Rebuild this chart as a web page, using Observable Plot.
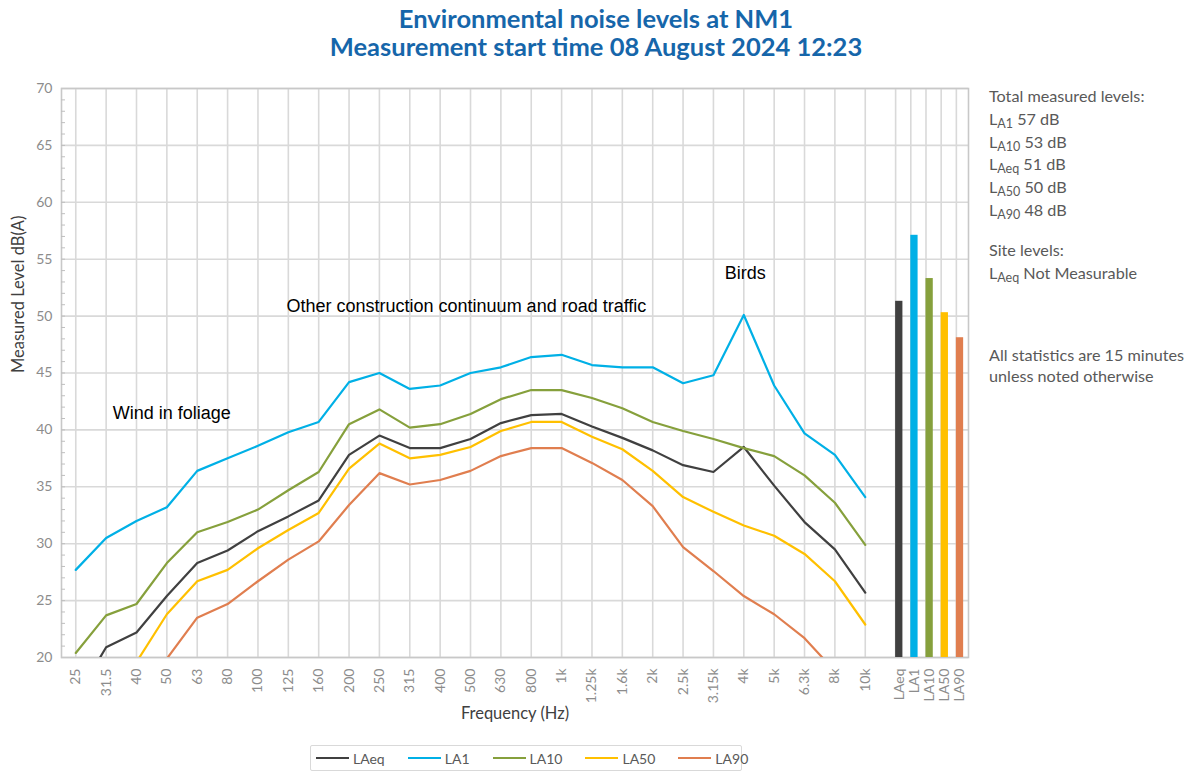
<!DOCTYPE html>
<html><head><meta charset="utf-8">
<script src="https://cdn.jsdelivr.net/npm/d3@7"></script>
<script src="https://cdn.jsdelivr.net/npm/@observablehq/plot@0.6"></script>
<style>
body{margin:0;background:#fff;}
#wrap{position:relative;width:1192px;height:772px;overflow:hidden;font-family:Lato,"Open Sans",sans-serif;}
#title{position:absolute;left:0;top:4px;width:1192px;text-align:center;color:#1666aa;font-weight:bold;font-size:25.5px;line-height:28px;}
#chart{position:absolute;left:0;top:70px;}
.side{position:absolute;left:989px;color:#595959;font-size:16.2px;white-space:nowrap;}
.side sub{font-size:12.5px;vertical-align:-3px;line-height:0;}
#legend{position:absolute;left:310px;top:745px;width:432px;height:26px;border:1px solid #d9d9d9;border-radius:2px;box-sizing:border-box;display:flex;align-items:center;gap:23px;padding-left:5px;font-size:14px;color:#595959;}
#legend .it{display:flex;align-items:center;gap:4px;}
#legend .sw{display:inline-block;width:33px;height:2.5px;}
</style></head>
<body><div id="wrap">
<div id="title">Environmental noise levels at NM1<br>Measurement start time 08 August 2024 12:23</div>
<div id="chart"></div>
<div class="side" style="top:85px;line-height:22.8px">Total measured levels:<br>L<sub>A1</sub> 57 dB<br>L<sub>A10</sub> 53 dB<br>L<sub>Aeq</sub> 51 dB<br>L<sub>A50</sub> 50 dB<br>L<sub>A90</sub> 48 dB</div>
<div class="side" style="top:238px;line-height:23px">Site levels:<br>L<sub>Aeq</sub> Not Measurable</div>
<div class="side" style="top:345px;line-height:20.5px">All statistics are 15 minutes<br>unless noted otherwise</div>
<div id="legend"></div>
</div>
<script>
const freqLabels = ["25","31.5","40","50","63","80","100","125","160","200","250","315","400","500","630","800","1k","1.25k","1.6k","2k","2.5k","3.15k","4k","5k","6.3k","8k","10k"];
const laeq = [16.4,20.9,22.2,25.4,28.3,29.4,31.1,32.4,33.8,37.8,39.5,38.4,38.4,39.2,40.6,41.3,41.4,40.3,39.3,38.2,36.9,36.3,38.5,35.1,31.9,29.5,25.7];
const la1  = [27.7,30.5,32.0,33.2,36.4,37.5,38.6,39.8,40.7,44.2,45.0,43.6,43.9,45.0,45.5,46.4,46.6,45.7,45.5,45.5,44.1,44.8,50.1,43.9,39.7,37.8,34.1];
const la10 = [20.4,23.7,24.7,28.3,31.0,31.9,33.0,34.7,36.3,40.5,41.8,40.2,40.5,41.4,42.7,43.5,43.5,42.8,41.9,40.7,39.9,39.2,38.4,37.7,36.0,33.6,29.9];
const la50 = [15.0,17.0,19.6,23.8,26.7,27.7,29.6,31.2,32.7,36.6,38.8,37.5,37.8,38.5,39.9,40.7,40.7,39.4,38.3,36.4,34.1,32.8,31.6,30.7,29.1,26.7,22.9];
const la90 = [12.0,14.0,16.5,19.9,23.5,24.7,26.7,28.6,30.2,33.4,36.2,35.2,35.6,36.4,37.7,38.4,38.4,37.1,35.6,33.3,29.7,27.6,25.4,23.8,21.7,18.8,16.0];
const seriesNames = ["LAeq","LA1","LA10","LA50","LA90"];
const seriesValues = [laeq, la1, la10, la50, la90];
const seriesColors = ["#404040","#00B0E6","#86A03C","#FFC000","#E07E4F"];
const totalLabels = ["LAeq","LA1","LA10","LA50","LA90"];
const totalValues = [51.3,57.1,53.3,50.3,48.1];
const yTicks = [20,25,30,35,40,45,50,55,60,65,70];

// layout
const barStart = freqLabels.length, barStep = 0.5, barW = 0.24;
const rows = seriesNames.flatMap((s,k) => seriesValues[k].map((v,i) => ({series:s, i, v})));
const totals = totalLabels.map((s,j) => ({series:s, pos: barStart + j*barStep, v: totalValues[j]}));
const tickPos = [...freqLabels.map((l,i)=>i), ...totals.map(d => d.pos + barW/2)];
const tickLab = new Map(tickPos.map((p,k) => [p, k < freqLabels.length ? freqLabels[k] : totalLabels[k-freqLabels.length]]));
const gridX = [...freqLabels.map((l,i)=>i), ...totals.map(d => d.pos)];
const annotations = [
  {text:"Wind in foliage", x:1.22, y:41.5},
  {text:"Other construction continuum and road traffic", x:6.94, y:50.85},
  {text:"Birds", x:21.37, y:53.74}
];

const chart = Plot.plot({
  width:1192, height:670, marginTop:18, marginBottom:83, marginLeft:61, marginRight:224,
  style:{fontFamily:"Lato, 'Open Sans', sans-serif", fontSize:"14px", background:"transparent"},
  x:{type:"linear", domain:[-0.47, 29.4], axis:null},
  y:{domain:[20,70], axis:null},
  color:{domain:seriesNames, range:seriesColors},
  marks:[
    Plot.ruleY(yTicks, {stroke:"#d9d9d9", strokeWidth:1.6}),
    Plot.ruleX(gridX, {stroke:"#d9d9d9", strokeWidth:1.6}),
    Plot.frame({stroke:"#c8c8c8", strokeWidth:1.6}),
    Plot.axisY({ticks:d3.range(21,70), tickSize:4, dx:4, tickFormat:()=>"", label:null, stroke:"#bfbfbf"}),
    Plot.axisY({ticks:yTicks, tickSize:0, tickPadding:9, label:null, fill:"#8c8c8c", fontSize:14}),
    Plot.axisX({ticks:tickPos, tickFormat:d=>tickLab.get(d), tickRotate:-90, tickSize:0, tickPadding:11, label:null, fill:"#8c8c8c", fontSize:14}),
    Plot.rect(totals, {x1:"pos", x2:d=>d.pos+barW, y1:20, y2:"v", fill:"series"}),
    Plot.line(rows, {x:"i", y:"v", stroke:"series", z:"series", strokeWidth:2.2, clip:true}),
    Plot.text(annotations, {x:"x", y:"y", text:"text", textAnchor:"start", fontFamily:"'Liberation Sans', Arial, sans-serif", fontSize:18, fill:"#000"}),
    Plot.text(["Measured Level dB(A)"], {text:d=>d, frameAnchor:"left", rotate:-90, dx:-43, fill:"#404040", fontSize:16.5}),
    Plot.text(["Frequency (Hz)"], {text:d=>d, frameAnchor:"bottom", dy:61, fill:"#404040", fontSize:16.5})
  ]
});
document.getElementById("chart").appendChild(chart);

const lg = document.getElementById("legend");
seriesNames.forEach((s,k) => {
  const it = document.createElement("div"); it.className = "it";
  const sw = document.createElement("span"); sw.className = "sw"; sw.style.background = seriesColors[k];
  const tx = document.createElement("span"); tx.textContent = s;
  it.appendChild(sw); it.appendChild(tx); lg.appendChild(it);
});
</script>
</body></html>
